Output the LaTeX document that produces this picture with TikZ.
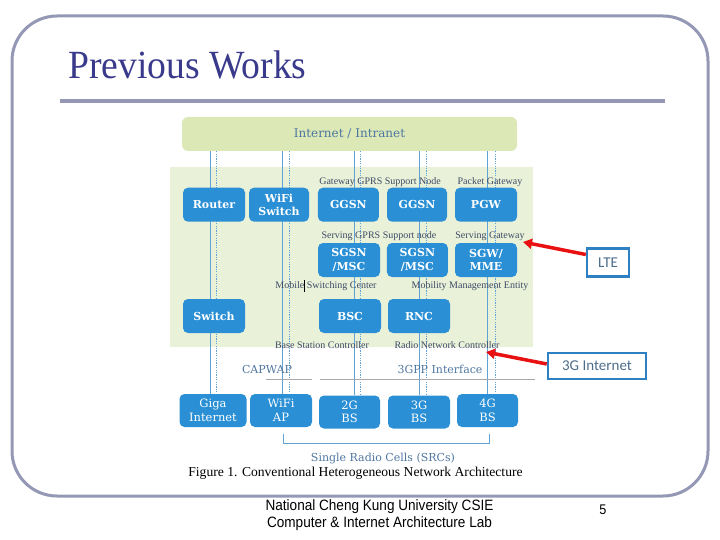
\documentclass[tikz,border=0pt]{standalone}
\usepackage{fontspec}
\setmainfont{Liberation Serif}
\newfontfamily\slabfont{DejaVu Serif}
\newfontfamily\titlefont[FakeStretch=0.94]{Liberation Serif}
\newfontfamily\footfont[FakeStretch=0.905]{Liberation Sans}
\newfontfamily\calfont{Carlito}
\usetikzlibrary{arrows.meta,backgrounds}
\definecolor{boxblue}{HTML}{2A8FD4}
\definecolor{bggreen}{HTML}{E9F1D8}
\definecolor{barcol}{HTML}{DCE9B6}
\definecolor{linecol}{HTML}{5EA2D6}
\definecolor{lblcol}{HTML}{3D4A66}
\definecolor{slabtxt}{HTML}{4E76A0}
\definecolor{framecol}{HTML}{9498B4}
\definecolor{titlecol}{HTML}{3A3A8C}
\definecolor{callout}{HTML}{2F80C2}
\definecolor{callouttxt}{HTML}{4D6D8C}
\definecolor{arrowred}{HTML}{E81010}
\definecolor{rulegray}{HTML}{A8A8A8}
\tikzset{
  netbox/.style={fill=boxblue, rounded corners=5pt, text=white, align=center, inner sep=0pt,
    font=\slabfont\bfseries\fontsize{11}{13.5}\selectfont},
  netboxlow/.style={netbox, font=\slabfont\fontsize{11.5}{13.5}\selectfont},
  lbl/.style={font=\fontsize{10}{12}\selectfont, text=lblcol, inner sep=0pt},
  slablbl/.style={font=\slabfont\fontsize{11}{13}\selectfont, text=slabtxt, inner sep=0pt},
  vsolid/.style={draw=linecol, line width=0.75pt},
  vdot/.style={draw=linecol, line width=0.75pt, dash pattern=on 1.2pt off 1.2pt},
  calloutbox/.style={draw=callout, line width=2.5pt, text=callouttxt, inner sep=0pt,
    font=\calfont\fontsize{15}{18}\selectfont},
  redarrow/.style={draw=arrowred, line width=3.5pt, -{Triangle[length=9pt,width=10pt]}},
  foot/.style={font=\footfont\fontsize{15}{17}\selectfont, inner sep=0pt, align=center}
}
\begin{document}
\begin{tikzpicture}[x=1pt,y=-1pt]
\useasboundingbox (0,0) rectangle (720,540);
% slide frame
\draw[framecol, line width=3pt, rounded corners=45pt] (12,16) rectangle (708,496);
\node[font=\titlefont\fontsize{40}{44}\selectfont, text=titlecol, anchor=base west, inner sep=0pt] (title) at (68,79) {Previous Works};
\draw[framecol, line width=4pt] (60,101) -- (665,101);

% Internet bar
\node[fill=barcol, rounded corners=6pt, minimum width=335pt, minimum height=34pt, inner sep=0pt,
  font=\slabfont\fontsize{12}{14}\selectfont, text=slabtxt] (inet) at (349.5,134) {Internet / Intranet};

% row 4
\node[netboxlow, minimum width=67pt, minimum height=33pt] (giga) at (213,410.5) {Giga\\Internet};
\node[netboxlow, minimum width=62pt, minimum height=33pt] (wifiap) at (281,410.5) {WiFi\\AP};
\node[netboxlow, minimum width=61pt, minimum height=33pt] (bs2g) at (349.5,412) {2G\\BS};
\node[netboxlow, minimum width=62pt, minimum height=33pt] (bs3g) at (419,412) {3G\\BS};
\node[netboxlow, minimum width=61pt, minimum height=33pt] (bs4g) at (487.5,410.5) {4G\\BS};

\begin{scope}[on background layer]
  \fill[bggreen] (170,167) rectangle (533,347);
  \foreach \xs/\xd/\tg in {210/216.5/giga, 282.5/289/wifiap, 354/360.5/bs2g, 419/426.5/bs3g, 487/495/bs4g}{
    \draw[vsolid] (inet.south -| \xs,0) -- (\tg.north -| \xs,0);
    \draw[vdot] (inet.south -| \xd,0) -- (\tg.north -| \xd,0);
  }
\end{scope}

% row 1
\node[netbox, minimum width=62pt, minimum height=34pt] (router) at (214,204.7) {Router};
\node[netbox, minimum width=60pt, minimum height=34pt] (wifisw) at (279,204.7) {WiFi\\Switch};
\node[netbox, minimum width=61pt, minimum height=34pt] (ggsn1) at (348.4,204.7) {GGSN};
\node[netbox, minimum width=60pt, minimum height=34pt] (ggsn2) at (417,204.7) {GGSN};
\node[netbox, minimum width=62pt, minimum height=34pt] (pgw) at (486,204.7) {PGW};
% row 2
\node[netbox, minimum width=62pt, minimum height=34pt] (sgsn1) at (349,260) {SGSN\\/MSC};
\node[netbox, minimum width=61pt, minimum height=34pt] (sgsn2) at (417.4,260) {SGSN\\/MSC};
\node[netbox, minimum width=62pt, minimum height=34pt] (sgw) at (486,260) {SGW/\\MME};
% row 3
\node[netbox, minimum width=62pt, minimum height=34pt] (switch) at (214,316) {Switch};
\node[netbox, minimum width=62pt, minimum height=34pt] (bsc) at (350,316) {BSC};
\node[netbox, minimum width=62pt, minimum height=34pt] (rnc) at (419,316) {RNC};

% small labels
\node[lbl] (lgw) at (380,182) {Gateway GPRS Support Node};
\node[lbl] (lpg) at (490,182) {Packet Gateway};
\node[lbl] (lsg) at (379,236) {Serving GPRS Support node};
\node[lbl] (lsgw) at (490,236) {Serving Gateway};
\node[lbl] (lmsc) at (326,286) {Mobile Switching Center};
\node[lbl] (lmme) at (470,286) {Mobility Management Entity};
\node[lbl] (lbsc) at (322,345) {Base Station Controller};
\node[lbl] (lrnc) at (447,345) {Radio Network Controller};
\draw[black, line width=0.6pt] (304,280) -- (304,292);

% interface labels
\node[slablbl] (capwap) at (267,369) {CAPWAP};
\node[slablbl] (tgpp) at (440,369) {3GPP Interface};
\draw[rulegray, line width=0.8pt] (266,379) -- (312,379);
\draw[rulegray, line width=0.8pt] (320,379) -- (535,379);

% bracket
\draw[linecol, line width=0.9pt] (283,434) -- (283,443) -- (489,443) -- (489,434);
\node[slablbl] (src) at (383,459) {Single Radio Cells (SRCs)};
\node[font=\fontsize{13.6}{15}\selectfont, inner sep=0pt] (cap) at (355.5,473.5) {Figure 1. Conventional Heterogeneous Network Architecture};

% callouts
\node[calloutbox, minimum width=42pt, minimum height=28pt] (lte) at (608,262.5) {LTE};
\node[calloutbox, minimum width=98pt, minimum height=26pt] (tgi) at (597,366) {3G Internet};
\coordinate (ltetip) at (523,242);
\coordinate (tgtip) at (486,352);
\draw[redarrow] ([yshift=8pt]lte.west) -- (ltetip);
\draw[redarrow] ([yshift=2pt]tgi.west) -- (tgtip);

% footer
\node[foot] (f1) at (379.5,507) {National Cheng Kung University CSIE};
\node[foot] (f2) at (379.5,524) {Computer \& Internet Architecture Lab};
\node[font=\footfont\fontsize{14}{16}\selectfont, inner sep=0pt] (pnum) at (603,510) {5};
\end{tikzpicture}
\end{document}
